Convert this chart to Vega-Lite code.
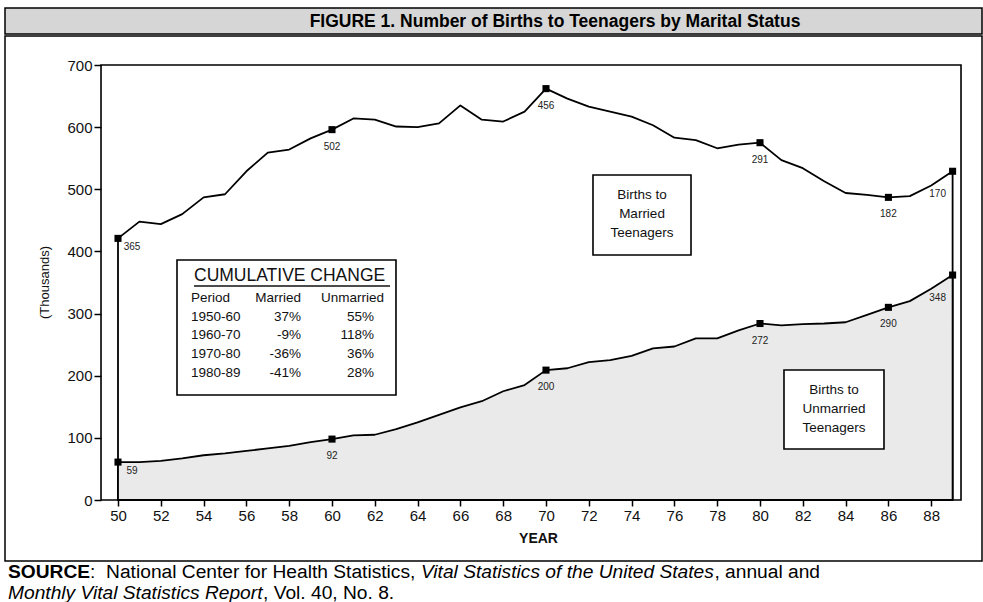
{
  "$schema": "https://vega.github.io/schema/vega-lite/v6.json",
  "padding": {"left": 4, "top": 7, "right": 1, "bottom": 0},
  "background": "white",
  "spacing": 0,
  "config": {
    "font": "Liberation Sans",
    "view": {"stroke": "black", "strokeWidth": 1.5},
    "concat": {"spacing": 0}
  },
  "vconcat": [
    {
      "width": 977,
      "height": 26,
      "view": {"fill": "#d6d6d6", "stroke": "black", "strokeWidth": 1.5},
      "data": {"values": [{"t": "FIGURE 1. Number of Births to Teenagers by Marital Status"}]},
      "mark": {"type": "text", "font": "Liberation Sans", "fontWeight": "bold", "fontSize": 17.5, "baseline": "middle", "align": "center", "color": "black", "dx": 61.5, "dy": 1},
      "encoding": {"text": {"field": "t", "type": "nominal"}}
    },
    {
      "width": 977,
      "height": 525,
      "data": {
        "values": [
          {"year": 1950, "series": "Married", "value": 421, "label": "365"},
          {"year": 1951, "series": "Married", "value": 448},
          {"year": 1952, "series": "Married", "value": 444},
          {"year": 1953, "series": "Married", "value": 460},
          {"year": 1954, "series": "Married", "value": 487},
          {"year": 1955, "series": "Married", "value": 492},
          {"year": 1956, "series": "Married", "value": 529},
          {"year": 1957, "series": "Married", "value": 559},
          {"year": 1958, "series": "Married", "value": 564},
          {"year": 1959, "series": "Married", "value": 582},
          {"year": 1960, "series": "Married", "value": 596, "label": "502"},
          {"year": 1961, "series": "Married", "value": 614},
          {"year": 1962, "series": "Married", "value": 612},
          {"year": 1963, "series": "Married", "value": 601},
          {"year": 1964, "series": "Married", "value": 600},
          {"year": 1965, "series": "Married", "value": 606},
          {"year": 1966, "series": "Married", "value": 635},
          {"year": 1967, "series": "Married", "value": 612},
          {"year": 1968, "series": "Married", "value": 609},
          {"year": 1969, "series": "Married", "value": 625},
          {"year": 1970, "series": "Married", "value": 662, "label": "456"},
          {"year": 1971, "series": "Married", "value": 646},
          {"year": 1972, "series": "Married", "value": 633},
          {"year": 1973, "series": "Married", "value": 625},
          {"year": 1974, "series": "Married", "value": 617},
          {"year": 1975, "series": "Married", "value": 603},
          {"year": 1976, "series": "Married", "value": 583},
          {"year": 1977, "series": "Married", "value": 579},
          {"year": 1978, "series": "Married", "value": 566},
          {"year": 1979, "series": "Married", "value": 572},
          {"year": 1980, "series": "Married", "value": 575, "label": "291"},
          {"year": 1981, "series": "Married", "value": 547},
          {"year": 1982, "series": "Married", "value": 534},
          {"year": 1983, "series": "Married", "value": 513},
          {"year": 1984, "series": "Married", "value": 494},
          {"year": 1985, "series": "Married", "value": 491},
          {"year": 1986, "series": "Married", "value": 487, "label": "182"},
          {"year": 1987, "series": "Married", "value": 489},
          {"year": 1988, "series": "Married", "value": 506},
          {"year": 1989, "series": "Married", "value": 529, "label": "170"},
          {"year": 1950, "series": "Unmarried", "value": 61, "label": "59"},
          {"year": 1951, "series": "Unmarried", "value": 61},
          {"year": 1952, "series": "Unmarried", "value": 63},
          {"year": 1953, "series": "Unmarried", "value": 67},
          {"year": 1954, "series": "Unmarried", "value": 72},
          {"year": 1955, "series": "Unmarried", "value": 75},
          {"year": 1956, "series": "Unmarried", "value": 79},
          {"year": 1957, "series": "Unmarried", "value": 83},
          {"year": 1958, "series": "Unmarried", "value": 87},
          {"year": 1959, "series": "Unmarried", "value": 93},
          {"year": 1960, "series": "Unmarried", "value": 98, "label": "92"},
          {"year": 1961, "series": "Unmarried", "value": 104},
          {"year": 1962, "series": "Unmarried", "value": 105},
          {"year": 1963, "series": "Unmarried", "value": 114},
          {"year": 1964, "series": "Unmarried", "value": 125},
          {"year": 1965, "series": "Unmarried", "value": 137},
          {"year": 1966, "series": "Unmarried", "value": 149},
          {"year": 1967, "series": "Unmarried", "value": 159},
          {"year": 1968, "series": "Unmarried", "value": 175},
          {"year": 1969, "series": "Unmarried", "value": 185},
          {"year": 1970, "series": "Unmarried", "value": 209, "label": "200"},
          {"year": 1971, "series": "Unmarried", "value": 212},
          {"year": 1972, "series": "Unmarried", "value": 222},
          {"year": 1973, "series": "Unmarried", "value": 225},
          {"year": 1974, "series": "Unmarried", "value": 232},
          {"year": 1975, "series": "Unmarried", "value": 244},
          {"year": 1976, "series": "Unmarried", "value": 247},
          {"year": 1977, "series": "Unmarried", "value": 260},
          {"year": 1978, "series": "Unmarried", "value": 260},
          {"year": 1979, "series": "Unmarried", "value": 273},
          {"year": 1980, "series": "Unmarried", "value": 284, "label": "272"},
          {"year": 1981, "series": "Unmarried", "value": 281},
          {"year": 1982, "series": "Unmarried", "value": 283},
          {"year": 1983, "series": "Unmarried", "value": 284},
          {"year": 1984, "series": "Unmarried", "value": 286},
          {"year": 1985, "series": "Unmarried", "value": 298},
          {"year": 1986, "series": "Unmarried", "value": 310, "label": "290"},
          {"year": 1987, "series": "Unmarried", "value": 320},
          {"year": 1988, "series": "Unmarried", "value": 340},
          {"year": 1989, "series": "Unmarried", "value": 362, "label": "348"}
        ]
      },
      "layer": [
        {
          "transform": [{"filter": "datum.series == 'Married'"}],
          "mark": {"type": "area", "fill": "white", "stroke": "black", "strokeWidth": 1.8, "strokeJoin": "round"},
          "encoding": {
            "x": {
              "field": "year", "type": "quantitative",
              "scale": {"domain": [1944.7196, 1990.3738], "nice": false, "zero": false},
              "axis": {
                "values": [1950,1951,1952,1953,1954,1955,1956,1957,1958,1959,1960,1961,1962,1963,1964,1965,1966,1967,1968,1969,1970,1971,1972,1973,1974,1975,1976,1977,1978,1979,1980,1981,1982,1983,1984,1985,1986,1987,1988,1989],
                "offset": -61,
                "domain": false,
                "grid": false,
                "tickSize": 6, "tickColor": "black", "tickWidth": 1.5,
                "labelExpr": "datum.value % 2 == 0 ? format(datum.value - 1900, 'd') : ''",
                "labelFontSize": 15, "labelColor": "#111", "labelPadding": 2, "labelFont": "Liberation Sans",
                "labelFlush": false, "labelOverlap": false,
                "title": "YEAR", "titleFontSize": 14, "titleFontWeight": "bold", "titleColor": "#111", "titleFont": "Liberation Sans",
                "titleX": 533, "titleY": 38, "titleBaseline": "middle", "titleAlign": "center"
              }
            },
            "y": {
              "field": "value", "type": "quantitative",
              "scale": {"domain": [-98.16, 746.67], "nice": false, "zero": false},
              "axis": {
                "values": [0, 100, 200, 300, 400, 500, 600, 700],
                "offset": -96,
                "domain": false,
                "grid": false,
                "tickSize": 7, "tickColor": "black", "tickWidth": 1.5,
                "labelFontSize": 15, "labelColor": "#111", "labelPadding": 2, "labelFont": "Liberation Sans",
                "title": "(Thousands)", "titleFontSize": 13, "titleFontWeight": "normal", "titleColor": "#111", "titleFont": "Liberation Sans",
                "titleX": -57, "titleY": 246, "titleBaseline": "middle", "titleAlign": "center", "titleAngle": 270
              }
            },
            "y2": {"datum": 0}
          }
        },
        {
          "transform": [{"filter": "datum.series == 'Unmarried'"}],
          "mark": {"type": "area", "fill": "#eaeaea", "stroke": "black", "strokeWidth": 1.8, "strokeJoin": "round"},
          "encoding": {
            "x": {"field": "year", "type": "quantitative"},
            "y": {"field": "value", "type": "quantitative"},
            "y2": {"datum": 0}
          }
        },
        {
          "data": {"values": [{}]},
          "mark": {"type": "rect", "fill": null, "fillOpacity": 0, "stroke": "black", "strokeWidth": 1.6},
          "encoding": {
            "x": {"datum": 1949.206, "type": "quantitative"},
            "x2": {"datum": 1989.393},
            "y": {"datum": 0, "type": "quantitative"},
            "y2": {"datum": 700}
          }
        },
        {
          "transform": [{"filter": "isValid(datum.label)"}],
          "mark": {"type": "point", "shape": "square", "size": 50, "filled": true, "color": "black", "opacity": 1},
          "encoding": {
            "x": {"field": "year", "type": "quantitative"},
            "y": {"field": "value", "type": "quantitative"}
          }
        },
        {
          "transform": [{"filter": "isValid(datum.label) && datum.year != 1950 && datum.year != 1989"}],
          "mark": {"type": "text", "fontSize": 10, "color": "#222", "align": "center", "baseline": "middle", "dy": 17},
          "encoding": {
            "x": {"field": "year", "type": "quantitative"},
            "y": {"field": "value", "type": "quantitative"},
            "text": {"field": "label", "type": "nominal"}
          }
        },
        {
          "transform": [{"filter": "isValid(datum.label) && datum.year == 1950"}],
          "mark": {"type": "text", "fontSize": 10, "color": "#222", "align": "center", "baseline": "middle", "dx": 14, "dy": 9},
          "encoding": {
            "x": {"field": "year", "type": "quantitative"},
            "y": {"field": "value", "type": "quantitative"},
            "text": {"field": "label", "type": "nominal"}
          }
        },
        {
          "transform": [{"filter": "isValid(datum.label) && datum.year == 1989"}],
          "mark": {"type": "text", "fontSize": 10, "color": "#222", "align": "center", "baseline": "middle", "dx": -15, "dy": 23},
          "encoding": {
            "x": {"field": "year", "type": "quantitative"},
            "y": {"field": "value", "type": "quantitative"},
            "text": {"field": "label", "type": "nominal"}
          }
        },
        {
          "data": {"values": [{}]},
          "mark": {"type": "rect", "fill": "white", "stroke": "black", "strokeWidth": 1.6},
          "encoding": {
            "x": {"datum": 1952.757, "type": "quantitative"},
            "x2": {"datum": 1962.99},
            "y": {"datum": 386.2, "type": "quantitative"},
            "y2": {"datum": 169.0}
          }
        },
        {
          "data": {"values": [{}]},
          "mark": {"type": "text", "text": "CUMULATIVE CHANGE", "fontSize": 17.5, "color": "#111", "align": "left", "baseline": "middle"},
          "encoding": {
            "x": {"datum": 1953.551, "type": "quantitative"},
            "y": {"datum": 360.5, "type": "quantitative"}
          }
        },
        {
          "data": {"values": [{}]},
          "mark": {"type": "rule", "color": "#111", "strokeWidth": 1.3},
          "encoding": {
            "x": {"datum": 1953.551, "type": "quantitative"},
            "x2": {"datum": 1962.71},
            "y": {"datum": 344.4, "type": "quantitative"}
          }
        },
        {
          "data": {"values": [{}]},
          "mark": {"type": "text", "text": ["Period", "1950-60", "1960-70", "1970-80", "1980-89"], "fontSize": 13.5, "lineHeight": 18.75, "color": "#111", "align": "left", "baseline": "middle"},
          "encoding": {
            "x": {"datum": 1953.411, "type": "quantitative"},
            "y": {"datum": 325.1, "type": "quantitative"}
          }
        },
        {
          "data": {"values": [{}]},
          "mark": {"type": "text", "text": ["Married", "37%", "-9%", "-36%", "-41%"], "fontSize": 13.5, "lineHeight": 18.75, "color": "#111", "align": "right", "baseline": "middle"},
          "encoding": {
            "x": {"datum": 1958.551, "type": "quantitative"},
            "y": {"datum": 325.1, "type": "quantitative"}
          }
        },
        {
          "data": {"values": [{}]},
          "mark": {"type": "text", "text": "Unmarried", "fontSize": 13.5, "color": "#111", "align": "right", "baseline": "middle"},
          "encoding": {
            "x": {"datum": 1962.43, "type": "quantitative"},
            "y": {"datum": 325.1, "type": "quantitative"}
          }
        },
        {
          "data": {"values": [{}]},
          "mark": {"type": "text", "text": ["55%", "118%", "36%", "28%"], "fontSize": 13.5, "lineHeight": 18.75, "color": "#111", "align": "right", "baseline": "middle"},
          "encoding": {
            "x": {"datum": 1961.963, "type": "quantitative"},
            "y": {"datum": 294.9, "type": "quantitative"}
          }
        },
        {
          "data": {"values": [{}]},
          "mark": {"type": "rect", "fill": "white", "stroke": "black", "strokeWidth": 1.6},
          "encoding": {
            "x": {"datum": 1972.196, "type": "quantitative"},
            "x2": {"datum": 1976.776},
            "y": {"datum": 523.0, "type": "quantitative"},
            "y2": {"datum": 394.3}
          }
        },
        {
          "data": {"values": [{}]},
          "mark": {"type": "text", "text": ["Births to", "Married", "Teenagers"], "fontSize": 13.5, "lineHeight": 19, "color": "#111", "align": "center", "baseline": "middle"},
          "encoding": {
            "x": {"datum": 1974.486, "type": "quantitative"},
            "y": {"datum": 490.8, "type": "quantitative"}
          }
        },
        {
          "data": {"values": [{}]},
          "mark": {"type": "rect", "fill": "white", "stroke": "black", "strokeWidth": 1.6},
          "encoding": {
            "x": {"datum": 1981.121, "type": "quantitative"},
            "x2": {"datum": 1985.794},
            "y": {"datum": 209.2, "type": "quantitative"},
            "y2": {"datum": 82.1}
          }
        },
        {
          "data": {"values": [{}]},
          "mark": {"type": "text", "text": ["Births to", "Unmarried", "Teenagers"], "fontSize": 13.5, "lineHeight": 19, "color": "#111", "align": "center", "baseline": "middle"},
          "encoding": {
            "x": {"datum": 1983.458, "type": "quantitative"},
            "y": {"datum": 177.0, "type": "quantitative"}
          }
        }
      ]
    },
    {
      "width": 977,
      "height": 44,
      "data": {"values": [{}]},
      "layer": [
        {"mark": {"type": "text", "text": "SOURCE", "fontWeight": "bold", "fontSize": 19.2, "color": "black", "align": "left", "baseline": "middle", "dx": -485.5, "dy": -12}},
        {"mark": {"type": "text", "text": ":\u00a0\u00a0National Center for Health Statistics,", "fontSize": 19.2, "color": "black", "align": "left", "baseline": "middle", "dx": -403.4, "dy": -12}},
        {"mark": {"type": "text", "text": "Vital Statistics of the United States", "fontStyle": "italic", "fontSize": 19.2, "color": "black", "align": "left", "baseline": "middle", "dx": -72.6, "dy": -12}},
        {"mark": {"type": "text", "text": ", annual and", "fontSize": 19.2, "color": "black", "align": "left", "baseline": "middle", "dx": 220.9, "dy": -12}},
        {"mark": {"type": "text", "text": "Monthly Vital Statistics Report", "fontStyle": "italic", "fontSize": 19.2, "color": "black", "align": "left", "baseline": "middle", "dx": -485.5, "dy": 8.5}},
        {"mark": {"type": "text", "text": ", Vol. 40, No. 8.", "fontSize": 19.2, "color": "black", "align": "left", "baseline": "middle", "dx": -230.5, "dy": 8.5}}
      ]
    }
  ]
}
